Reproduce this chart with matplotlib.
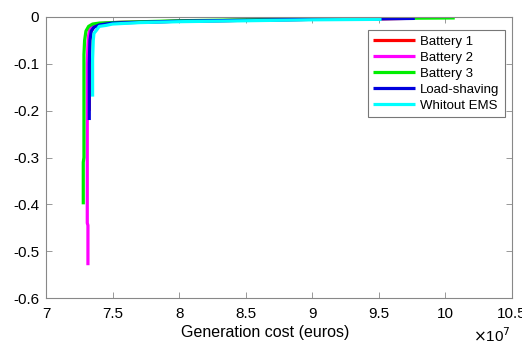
import matplotlib
matplotlib.use("Agg")
import matplotlib.pyplot as plt
from matplotlib.ticker import FuncFormatter

plt.rcParams['font.family'] = ['Liberation Sans', 'DejaVu Sans']

# Pareto fronts: generation cost (euros) vs. objective
b1_cost = [7.325e7, 7.325e7, 7.33e7, 7.34e7, 7.36e7, 7.40e7, 7.50e7, 8.0e7, 8.5e7, 9.0e7, 9.5e7, 9.70e7]
b1_obj = [-0.20, -0.10, -0.05, -0.03, -0.02, -0.015, -0.012, -0.009, -0.007, -0.005, -0.004, -0.003]

b2_cost = [7.315e7, 7.315e7, 7.31e7, 7.31e7, 7.315e7, 7.32e7, 7.33e7, 7.36e7, 7.40e7, 7.5e7, 8.0e7, 8.5e7, 9.0e7, 9.5e7]
b2_obj = [-0.53, -0.445, -0.44, -0.10, -0.06, -0.04, -0.025, -0.017, -0.014, -0.012, -0.009, -0.007, -0.005, -0.004]

b3_cost = [7.28e7, 7.28e7, 7.285e7, 7.285e7, 7.29e7, 7.30e7, 7.32e7, 7.35e7, 7.40e7, 7.6e7, 8.0e7, 8.5e7, 9.0e7, 9.5e7, 10.07e7]
b3_obj = [-0.40, -0.31, -0.30, -0.08, -0.05, -0.03, -0.02, -0.015, -0.013, -0.011, -0.008, -0.006, -0.004, -0.003, -0.002]

ls_cost = [7.325e7, 7.325e7, 7.33e7, 7.34e7, 7.36e7, 7.40e7, 7.5e7, 8.0e7, 8.5e7, 9.0e7, 9.5e7, 9.77e7]
ls_obj = [-0.22, -0.10, -0.05, -0.03, -0.022, -0.017, -0.013, -0.009, -0.007, -0.005, -0.004, -0.003]

wo_cost = [7.35e7, 7.35e7, 7.355e7, 7.36e7, 7.38e7, 7.40e7, 7.45e7, 7.5e7, 7.7e7, 8.0e7, 8.5e7, 9.0e7, 9.52e7]
wo_obj = [-0.17, -0.09, -0.05, -0.035, -0.028, -0.02, -0.018, -0.015, -0.012, -0.010, -0.008, -0.006, -0.005]

x_ticks = [7e7, 7.5e7, 8e7, 8.5e7, 9e7, 9.5e7, 10e7, 10.5e7]
y_ticks = [-0.6, -0.5, -0.4, -0.3, -0.2, -0.1, 0]

series = [
    ("Battery 1", b1_cost, b1_obj, "#ff0000"),
    ("Battery 2", b2_cost, b2_obj, "#ff00ff"),
    ("Battery 3", b3_cost, b3_obj, "#00ee00"),
    ("Load-shaving", ls_cost, ls_obj, "#0000dd"),
    ("Whitout EMS", wo_cost, wo_obj, "#00ffff"),
]

fig = plt.figure(figsize=(5.22, 3.45), dpi=100)
ax = fig.add_axes([46 / 522, 1 - 298 / 345, 466 / 522, 281 / 345])

for label, x, y, c in series:
    ax.plot(x, y, color=c, lw=2.3, label=label, solid_capstyle='butt')

ax.set_xlim(7e7, 10.5e7)
ax.set_ylim(-0.6, 0)
ax.set_xticks(x_ticks)
ax.set_yticks(y_ticks)
ax.xaxis.set_major_formatter(FuncFormatter(lambda v, p: f"{v / 1e7:g}"))
ax.yaxis.set_major_formatter(FuncFormatter(lambda v, p: f"{v:g}"))

ax.tick_params(direction='in', top=True, right=True, length=4, width=0.6,
               color='#888888', labelsize=11, pad=5)
ax.tick_params(axis='x', pad=6.5)
for s in ax.spines.values():
    s.set_color('#888888')
    s.set_linewidth(0.8)

ax.set_xlabel("Generation cost (euros)", fontsize=11.5)
ax.xaxis.set_label_coords((265 - 46) / 466, (298 - 325) / 281)
fig.text(473 / 522, 1 - 336 / 345, r"$\times$10$^{7}$", fontsize=11,
         ha='left', va='center')

leg = ax.legend(loc='upper right', bbox_to_anchor=(0.99, 0.962), fontsize=9.5,
                frameon=True, fancybox=False, edgecolor='#555555',
                handlelength=3.2, handletextpad=0.35, labelspacing=0.28,
                borderpad=0.4, borderaxespad=0.2)
leg.get_frame().set_linewidth(0.8)
for line in leg.get_lines():
    line.set_linewidth(2.3)

fig.savefig("out.png", dpi=100)
